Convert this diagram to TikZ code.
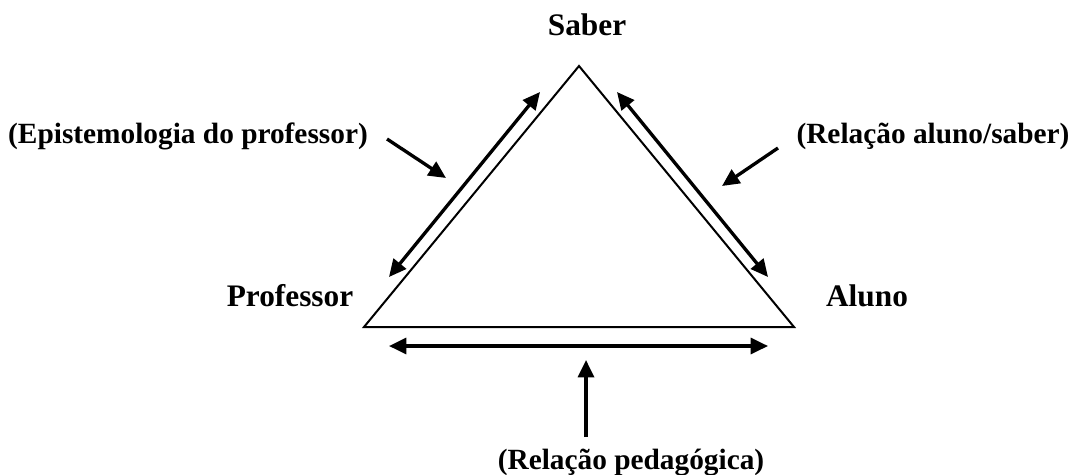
\documentclass[tikz,border=0pt]{standalone}
\usepackage{fontspec}
\setmainfont{Liberation Serif}
\usepackage{tikz}
\usetikzlibrary{arrows.meta}

\begin{document}
\begin{tikzpicture}[
  x=0.75pt, y=-0.75pt,
  vertice/.style={font=\fontsize{23.5}{28}\selectfont\bfseries, inner sep=0pt, anchor=base},
  relacao/.style={font=\fontsize{22}{26}\selectfont\bfseries, inner sep=0pt, anchor=base},
  lado/.style={line width=1.5pt, line join=miter},
  seta/.style={-{Triangle[length=13pt, width=12pt]}, line width=2.5pt},
  dupla/.style={{Triangle[length=13pt, width=12pt]}-{Triangle[length=13pt, width=12pt]}, line width=2.5pt}
]
  \useasboundingbox (0,0) rectangle (1075,475);

  % Vertices do triangulo
  \coordinate (topo) at (579,66);
  \coordinate (esq) at (364,327);
  \coordinate (dir) at (794,327);
  \draw[lado] (topo) -- (esq) -- (dir) -- cycle;

  % Rotulos
  \node[vertice] (saber) at (587,35) {Saber};
  \node[vertice] (prof) at (290,306) {Professor};
  \node[vertice] (aluno) at (867,306) {Aluno};
  \node[relacao] (epist) at (188,143) {(Epistemologia do professor)};
  \node[relacao] (relas) at (933,143) {(Relação aluno/saber)};
  \node[relacao] (relped) at (631,469) {(Relação pedagógica)};

  % Setas duplas
  \coordinate (e1) at (389,277);
  \coordinate (e2) at (540,92);
  \coordinate (d1) at (617,92);
  \coordinate (d2) at (768,277);
  \coordinate (b1) at (389,346);
  \coordinate (b2) at (768,346);
  \draw[dupla] (e1) -- (e2);
  \draw[dupla] (d1) -- (d2);
  \draw[dupla] (b1) -- (b2);

  % Setas indicadoras
  \coordinate (pe1) at (387,139);
  \coordinate (pe2) at (446,178);
  \coordinate (pd1) at (778,148);
  \coordinate (pd2) at (722,186);
  \coordinate (pb1) at (586,437);
  \coordinate (pb2) at (586,360);
  \draw[seta] (pe1) -- (pe2);
  \draw[seta] (pd1) -- (pd2);
  \draw[seta] (pb1) -- (pb2);

\end{tikzpicture}
\end{document}
